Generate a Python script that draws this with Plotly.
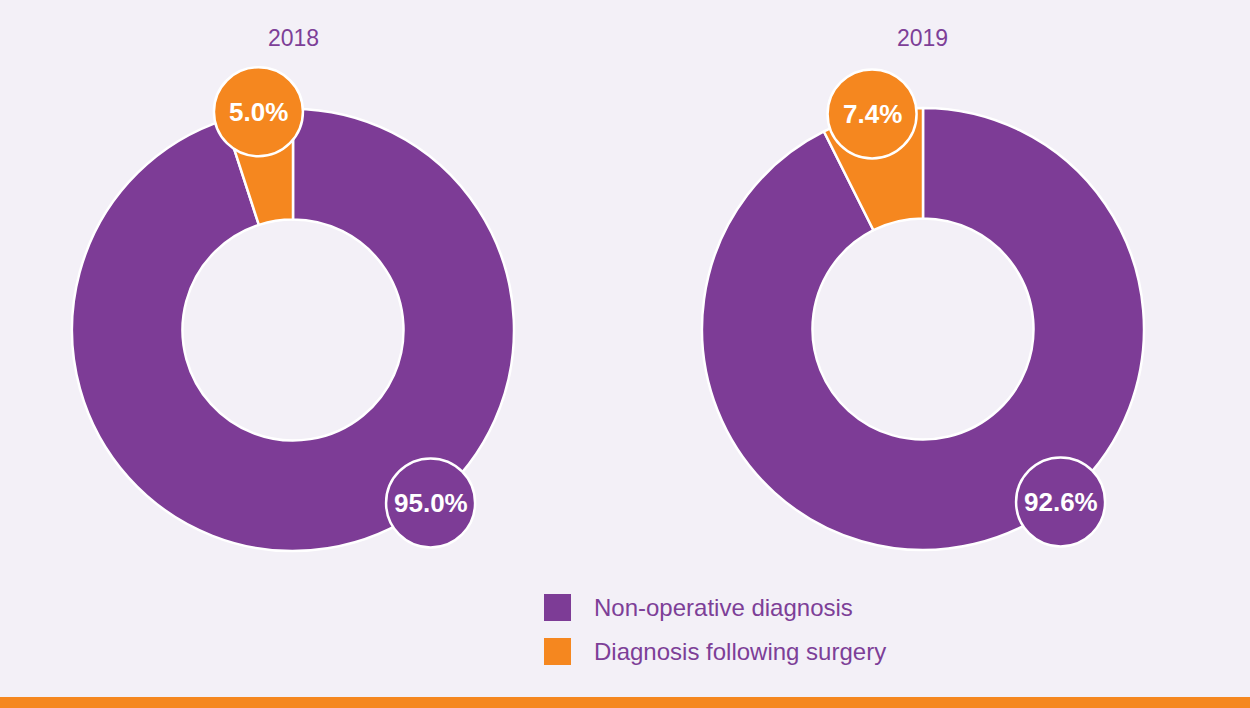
import math
import plotly.graph_objects as go

# ---- data ----
years = ["2018", "2019"]
categories = ["Non-operative diagnosis", "Diagnosis following surgery"]
values_2018 = [95.0, 5.0]
values_2019 = [92.6, 7.4]
colors = ["#7D3C96", "#F5871F"]

BG = "#F3F0F7"
TEXT_PURPLE = "#7D3F98"
FONT = "Liberation Sans, Arial, Helvetica, sans-serif"

W, H = 1250, 708
# donut geometry (pixels)
centers = [(293, 330), (923, 329)]
R = 221
LABEL_R = 44.5
MAIN_LABEL_ANGLE = 141.5  # degrees clockwise from top for the large slice label

fig = go.Figure()
shapes = []
annotations = []

def px_to_paper(x, y):
    return x / W, 1 - y / H

for year, vals, (cx, cy) in zip(years, [values_2018, values_2019], centers):
    x0, y1 = px_to_paper(cx - R, cy - R)
    x1, y0 = px_to_paper(cx + R, cy + R)
    fig.add_trace(go.Pie(
        labels=categories, values=vals, hole=0.5, sort=False,
        direction="clockwise", rotation=0,
        marker=dict(colors=colors, line=dict(color="white", width=2.5)),
        textinfo="none", hoverinfo="label+value", showlegend=False,
        domain=dict(x=[x0, x1], y=[y0, y1]),
    ))
    # title
    tx, ty = px_to_paper(cx, 38)
    annotations.append(dict(x=tx, y=ty, xref="paper", yref="paper", text=year,
                            xanchor="center", yanchor="middle",
                            showarrow=False, font=dict(size=23, color=TEXT_PURPLE, family=FONT)))
    # value labels in circles
    total = sum(vals)
    small_mid = 360 - (vals[1] / total) * 360 / 2  # clockwise from top
    angles = [MAIN_LABEL_ANGLE, small_mid]
    for v, col, ang in zip(vals, colors, angles):
        a = math.radians(ang)
        lx = cx + R * math.sin(a)
        ly = cy - R * math.cos(a)
        ax0, ay1 = px_to_paper(lx - LABEL_R, ly - LABEL_R)
        ax1, ay0 = px_to_paper(lx + LABEL_R, ly + LABEL_R)
        shapes.append(dict(type="circle", xref="paper", yref="paper",
                           x0=ax0, x1=ax1, y0=ay0, y1=ay1,
                           fillcolor=col, line=dict(color="white", width=2.5)))
        px_, py_ = px_to_paper(lx, ly)
        annotations.append(dict(x=px_, y=py_, xref="paper", yref="paper",
                                xanchor="center", yanchor="middle",
                                text=f"<b>{v:.1f}%</b>", showarrow=False,
                                font=dict(size=26, color="white", family=FONT)))

# custom legend
leg_x, leg_y0, leg_dy, sq = 544, 594, 44, 27
for i, (cat, col) in enumerate(zip(categories, colors)):
    top = leg_y0 + i * leg_dy
    sx0, sy1 = px_to_paper(leg_x, top)
    sx1, sy0 = px_to_paper(leg_x + sq, top + sq)
    shapes.append(dict(type="rect", xref="paper", yref="paper", x0=sx0, x1=sx1,
                       y0=sy0, y1=sy1, fillcolor=col, line=dict(width=0)))
    tx, ty = px_to_paper(592, top + sq / 2)
    annotations.append(dict(x=tx, y=ty, xref="paper", yref="paper", text=cat,
                            xanchor="left", yanchor="middle", showarrow=False,
                            font=dict(size=24, color=TEXT_PURPLE, family=FONT)))

# bottom orange band
bx0, by1 = px_to_paper(0, 697)
shapes.append(dict(type="rect", xref="paper", yref="paper", x0=0, x1=1, y0=0, y1=by1,
                   fillcolor=colors[1], line=dict(width=0)))

fig.update_layout(
    width=W, height=H, margin=dict(l=0, r=0, t=0, b=0),
    paper_bgcolor=BG, plot_bgcolor=BG,
    shapes=shapes, annotations=annotations,
    font=dict(family=FONT),
)
fig.write_html("out.html", config={"displayModeBar": False},
               post_script="document.body.style.margin='0';document.body.style.overflow='hidden';")
